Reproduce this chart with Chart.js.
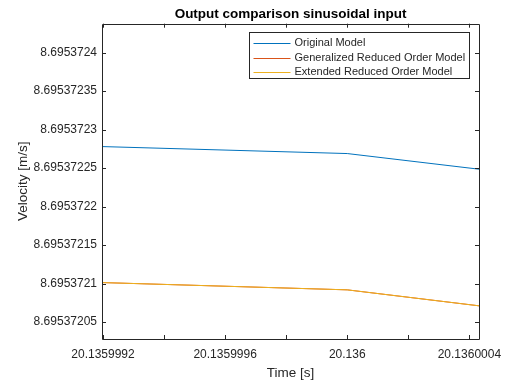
<!DOCTYPE html>
<html>
<head>
<meta charset="utf-8">
<script src="https://cdn.jsdelivr.net/npm/chart.js@4.4.1/dist/chart.umd.min.js"></script>
<style>
  html, body { margin: 0; padding: 0; background: #fff; }
  #wrap { width: 517px; height: 383px; }
</style>
</head>
<body>
<div id="wrap"><canvas id="outChart"></canvas></div>
<script>
// time samples visible in the zoomed window [s]
const timeVals = [20.13599919672, 20.136, 20.1360004315];
// velocity [m/s]
const originalModel = [8.69537227798, 8.69537226891, 8.69537224858];
const generalizedRom = [8.69537210130, 8.69537209184, 8.69537207111];
const extendedRom = [8.69537210130, 8.69537209184, 8.69537207111];

const seriesNames = ['Original Model', 'Generalized Reduced Order Model', 'Extended Reduced Order Model'];

const xTicks = [20.1359992, 20.1359994, 20.1359996, 20.1359998, 20.136, 20.1360002, 20.1360004];
const xTickLabels = ['20.1359992', '', '20.1359996', '', '20.136', '', '20.1360004'];
const yTicks = [8.69537205, 8.6953721, 8.69537215, 8.6953722, 8.69537225, 8.6953723, 8.69537235, 8.6953724];
const yTickLabels = ['8.69537205', '8.6953721', '8.69537215', '8.6953722', '8.69537225', '8.6953723', '8.69537235', '8.6953724'];

const xMin = 20.13599919672, xMax = 20.1360004315;
const yMin = 8.6953720280, yMax = 8.6953724376;

const axisColor = '#262626';
const fontFam = '"Liberation Sans", Arial, Helvetica, sans-serif';

function toPoints(ys) {
    return ys.map((y, i) => ({ x: timeVals[i], y: y }));
}

// matlab style box with inward ticks on all sides, plus the legend
const boxPlugin = {
    id: 'boxPlugin',
    afterDatasetsDraw(chart) {
        const c = chart.ctx, a = chart.chartArea;
        const xs = chart.scales.x, ys = chart.scales.y;
        const tl = 4;
        c.save();
        c.strokeStyle = axisColor;
        c.lineWidth = 1;
        c.beginPath();
        c.rect(Math.round(a.left) + 0.5, Math.round(a.top) + 0.5,
               Math.round(a.right - a.left), Math.round(a.bottom - a.top));
        xTicks.forEach(v => {
            const px = Math.round(xs.getPixelForValue(v)) + 0.5;
            c.moveTo(px, a.bottom); c.lineTo(px, a.bottom - tl);
            c.moveTo(px, a.top); c.lineTo(px, a.top + tl);
        });
        yTicks.forEach(v => {
            const py = Math.round(ys.getPixelForValue(v)) + 0.5;
            c.moveTo(a.left, py); c.lineTo(a.left + tl, py);
            c.moveTo(a.right, py); c.lineTo(a.right - tl, py);
        });
        c.stroke();

        // legend box
        const lx = 249.5, ly = 32.5, lw = 220, lh = 46;
        c.fillStyle = '#fff';
        c.fillRect(lx, ly, lw, lh);
        c.strokeStyle = axisColor;
        c.strokeRect(lx, ly, lw, lh);
        c.font = '11px ' + fontFam;
        c.textBaseline = 'middle';
        c.textAlign = 'left';
        chart.data.datasets.forEach((ds, i) => {
            const yy = ly + 10.5 + i * 14.5;
            c.strokeStyle = ds.borderColor;
            c.beginPath();
            c.moveTo(lx + 4, Math.round(yy) + 0.5);
            c.lineTo(lx + 41, Math.round(yy) + 0.5);
            c.stroke();
            c.fillStyle = axisColor;
            c.fillText(seriesNames[i], lx + 45, yy);
        });
        c.restore();
    }
};

const ctx = document.getElementById('outChart').getContext('2d');

const outChart = new Chart(ctx, {
    type: 'line',
    data: {
        datasets: [{
            label: seriesNames[0],
            data: toPoints(originalModel),
            borderColor: '#0072BD',
            borderWidth: 1,
            pointRadius: 0,
            order: 2
        }, {
            label: seriesNames[1],
            data: toPoints(generalizedRom),
            borderColor: '#D95319',
            borderWidth: 1,
            pointRadius: 0,
            order: 1
        }, {
            label: seriesNames[2],
            data: toPoints(extendedRom),
            borderColor: '#EDB120',
            borderWidth: 1,
            pointRadius: 0,
            order: 0
        }]
    },
    options: {
        responsive: true,
        maintainAspectRatio: false,
        animation: false,
        layout: { padding: { left: 0, right: 38, top: 0, bottom: 0 } },
        plugins: {
            legend: { display: false },
            tooltip: { enabled: false },
            title: {
                display: true,
                text: 'Output comparison sinusoidal input',
                fullSize: false,
                color: '#000',
                font: { family: fontFam, size: 13.5, weight: 'bold', lineHeight: 1.2 },
                padding: { top: 6, bottom: 1.5 }
            }
        },
        scales: {
            x: {
                type: 'linear',
                min: xMin,
                max: xMax,
                afterBuildTicks: s => { s.ticks = xTicks.map(v => ({ value: v })); },
                afterFit: s => { s.height = 44; },
                grid: { display: false, drawTicks: false },
                border: { display: false },
                ticks: {
                    autoSkip: false,
                    maxRotation: 0,
                    padding: 8,
                    color: axisColor,
                    font: { family: fontFam, size: 12 },
                    callback: (v, i) => xTickLabels[i]
                },
                title: {
                    display: true,
                    text: 'Time [s]',
                    color: axisColor,
                    font: { family: fontFam, size: 13.5 },
                    padding: { top: 0, bottom: 2 }
                }
            },
            y: {
                type: 'linear',
                min: yMin,
                max: yMax,
                afterBuildTicks: s => { s.ticks = yTicks.map(v => ({ value: v })); },
                afterFit: s => { s.width = 102; },
                grid: { display: false, drawTicks: false },
                border: { display: false },
                ticks: {
                    autoSkip: false,
                    padding: 5,
                    color: axisColor,
                    font: { family: fontFam, size: 12 },
                    callback: (v, i) => yTickLabels[i]
                },
                title: {
                    display: true,
                    text: 'Velocity [m/s]',
                    color: axisColor,
                    font: { family: fontFam, size: 13.5 },
                    padding: { top: 15, bottom: 0 }
                }
            }
        }
    },
    plugins: [boxPlugin]
});
</script>
</body>
</html>
